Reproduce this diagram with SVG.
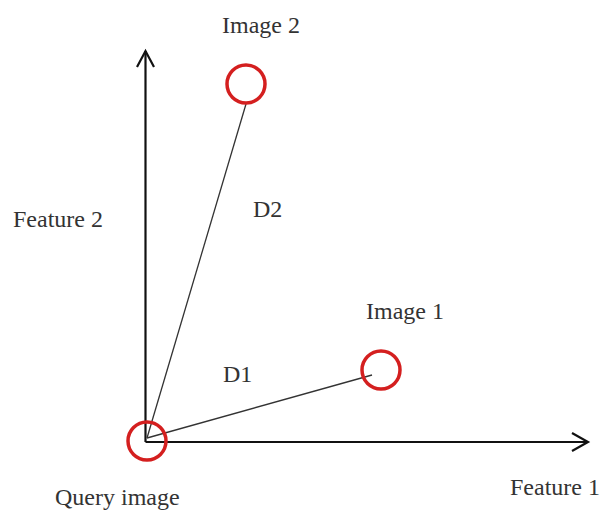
<svg xmlns="http://www.w3.org/2000/svg" width="604" height="512" viewBox="0 0 604 512">
<style>
text{font-family:"Liberation Serif","Times New Roman",serif;font-size:24px;fill:#333}
.axis{stroke:#111;stroke-width:2.2;fill:none}
.dist{stroke:#333;stroke-width:1.3;fill:none}
.pt{stroke:#d41f1f;stroke-width:3.5;fill:none}
</style>
<rect width="604" height="512" fill="#fff"/>
<g id="connectors">
<line class="axis" x1="145.5" y1="442" x2="145.5" y2="51"/>
<polyline class="axis" points="137,67 145.5,51 154,67"/>
<line class="axis" x1="145.5" y1="442" x2="587" y2="442"/>
<polyline class="axis" points="572,433 588,442 572,451"/>
<line class="dist" x1="147" y1="438" x2="246" y2="104"/>
<line class="dist" x1="147" y1="438" x2="372" y2="375"/>
</g>
<g id="query"><circle class="pt" cx="147" cy="441" r="19"/><text x="55" y="505">Query image</text></g>
<g id="image2"><circle class="pt" cx="246" cy="84" r="19"/><text x="222" y="33">Image 2</text></g>
<g id="image1"><circle class="pt" cx="381" cy="370" r="19"/><text x="366" y="319">Image 1</text></g>
<g id="labels">
<text x="13" y="227">Feature 2</text>
<text x="510" y="495">Feature 1</text>
<text x="253" y="217">D2</text>
<text x="223" y="382">D1</text>
</g>
</svg>
